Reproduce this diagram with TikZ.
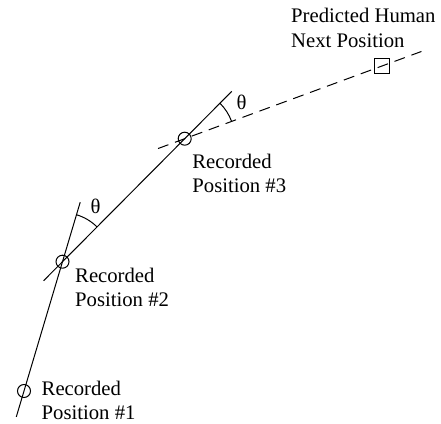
\documentclass[tikz,border=0pt]{standalone}
\usepackage{fontspec}
\setmainfont{Liberation Serif}
\usetikzlibrary{calc, positioning, angles}

\begin{document}
\begin{tikzpicture} [x=1pt, y=1pt,
		% define styles
		posnodestyle/.style={
			% The shape:
			circle,
			% The size:
			minimum size=13pt,
			inner sep=0pt,
			% The border:
			draw=black,
			line width=1pt
		},
		prednodestyle/.style={
			% The shape:
			rectangle,
			% The size:
			minimum size=15pt,
			inner sep=0pt,
			% The border:
			draw=black,
			line width=1pt
		},
		textnodestyle/.style={
			align=left,
			inner sep=0pt,
			anchor=base west, % baseline of the lower line
			% Font
			font=\fontsize{20.7}{24.5}\selectfont
		},
		track/.style={
			% Thickness
			line width=1pt,
			black
		},
		predtrack/.style={
			line width=1pt,
			black,
			dash pattern=on 11pt off 7pt
		},
		thetastyle/.style={
			draw,
			line width=1pt,
			pic text=θ,
			pic text options={font=\fontsize{20.7}{24.5}\selectfont}
		}]
		% end of style definition

		\useasboundingbox (0,0) rectangle (441,423);

		% draw nodes
		\node (p1) [posnodestyle] at (24,32) {};
		\node (p2) [posnodestyle] at (62.5,161.3) {};
		\node (p3) [posnodestyle] at (184.7,284.3) {};
		\node (next) [prednodestyle] at (382,357) {};

		\node (t1) [textnodestyle] at ($(p1.center)+(17.5,-28.8)$) {Recorded\\Position \#1};
		\node (t2) [textnodestyle] at ($(p2.center)+(12.5,-44.8)$) {Recorded\\Position \#2};
		\node (t3) [textnodestyle] at ($(p3.center)+(7.5,-54.3)$) {Recorded\\Position \#3};
		\node (tnext) [textnodestyle] at ($(next.center)+(-91,18.5)$) {Predicted Human\\Next Position};

		% line ends
		\coordinate (l1bot) at ($(p1.center)!-0.2!(p2.center)$);
		\coordinate (l1top) at ($(p2.center)!-0.46!(p1.center)$);
		\coordinate (l2bot) at ($(p2.center)!-0.155!(p3.center)$);
		\coordinate (l2top) at ($(p3.center)!-0.385!(p2.center)$);
		\coordinate (l3bot) at ($(p3.center)!-0.135!(next.center)$);
		\coordinate (l3top) at ($(next.center)!-0.2!(p3.center)$);

		% connect nodes
		\draw [track] (l1bot) -- (l1top);
		\draw [track] (l2bot) -- (l2top);
		\draw [predtrack] (l3bot) -- (l3top);

		% turning angles
		\pic [thetastyle, angle radius=49pt, angle eccentricity=1.32] {angle = p3--p2--l1top};
		\pic [thetastyle, angle radius=50pt, angle eccentricity=1.35] {angle = next--p3--l2top};
	\end{tikzpicture}
\end{document}
